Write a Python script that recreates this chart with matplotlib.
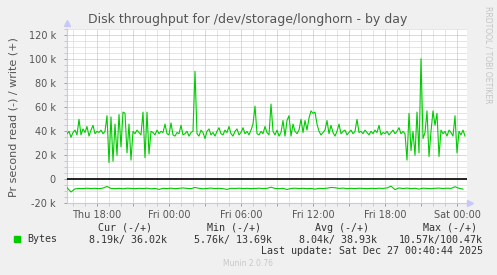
import numpy as np
import matplotlib
matplotlib.use("Agg")
import matplotlib.pyplot as plt
from matplotlib.ticker import MultipleLocator, FuncFormatter

# write (+) in kB/s, one sample every 10 minutes, starting Thu 15:30
write_k = [
    38, 40, 35, 39, 41, 37, 50, 37, 42, 39, 44, 36, 41, 45, 38, 40,
    39, 41, 38, 40, 53, 14, 52, 15, 46, 20, 54, 27, 56, 55, 22, 46,
    16, 40, 38, 41, 39, 37, 56, 18, 56, 21, 40, 39, 37, 41, 38, 40,
    39, 46, 38, 37, 47, 37, 36, 39, 38, 45, 37, 38, 40, 36, 39, 40,
    90, 38, 36, 41, 39, 34, 40, 42, 37, 39, 36, 40, 43, 38, 37, 41,
    39, 44, 38, 36, 40, 42, 37, 39, 43, 38, 40, 37, 41, 46, 61, 38,
    37, 40, 38, 44, 39, 37, 62.7, 40, 37, 41, 36, 39, 49, 36, 49, 53,
    36, 46, 40, 38, 41, 50, 39, 49, 41, 51, 57, 55, 56, 46, 40, 37,
    39, 41, 49, 38, 45, 39, 36, 40, 46, 38, 40, 41, 37, 39, 41, 38,
    40, 50, 39, 40, 38, 41, 39, 37, 40, 38, 41, 39, 45, 37, 39, 38,
    40, 37, 39, 41, 38, 40, 43, 38, 40, 38, 16, 55, 24, 40, 20, 56,
    22, 100.47, 34, 39, 57, 19, 40, 57, 45, 55, 19, 41, 38, 40, 36, 41,
    39, 36, 53, 22, 40, 37, 41, 36.02,
]

# read (-) in kB/s, one sample every 20 minutes
read_k = [
    7.0, 10.57, 8.0, 7.6, 7.8, 7.4, 7.7, 7.5, 7.8, 7.3, 6.0, 7.6, 7.8, 7.5,
    7.9, 7.4, 7.6, 7.8, 7.5, 7.7, 7.4, 7.9, 7.6, 8.4, 7.5, 7.7, 7.4, 7.8,
    7.5, 7.2, 7.6, 7.8, 6.8, 7.5, 7.9, 7.6, 7.3, 7.7, 7.5, 7.8, 8.4, 7.5,
    7.6, 7.4, 7.7, 7.5, 7.8, 7.6, 7.4, 7.7, 7.5, 6.6, 7.6, 7.8, 7.5, 8.5,
    7.6, 7.4, 7.7, 7.5, 7.8, 7.6, 8.2, 7.5, 7.7, 7.4, 6.8, 7.0, 7.6, 7.3,
    7.8, 7.5, 7.7, 7.4, 7.6, 7.8, 7.5, 7.7, 7.4, 7.6, 7.2, 5.76, 8.6, 7.2,
    7.7, 7.3, 7.8, 7.5, 8.2, 7.4, 7.6, 7.8, 7.5, 7.3, 7.7, 7.4, 7.6, 6.2,
    7.5, 8.19,
]

tick_hours = [18, 24, 30, 36, 42, 48]
tick_labels = ["Thu 18:00", "Fri 00:00", "Fri 06:00", "Fri 12:00", "Fri 18:00", "Sat 00:00"]

legend_cols = ["Cur (-/+)", "Min (-/+)", "Avg (-/+)", "Max (-/+)"]
legend_vals = ["8.19k/ 36.02k", "5.76k/ 13.69k", "8.04k/ 38.93k", "10.57k/100.47k"]

start_h = 15.5
t_write = start_h + np.arange(len(write_k)) / 6.0
t_read = start_h + np.arange(len(read_k)) / 3.0

green = "#00CC00"
bg = "#F0F0F0"
axcol = "#C8C8F8"

W, H = 497, 275
fig = plt.figure(figsize=(W / 100, H / 100), dpi=100, facecolor=bg)
ax = fig.add_axes([67 / W, (H - 203.3) / H, 400 / W, 174 / H])
ax.set_facecolor("white")

ax.set_xlim(start_h, start_h + 400 / 12)
ax.set_ylim(-20000, 125000)

# grid
ax.xaxis.set_major_locator(MultipleLocator(3))
ax.xaxis.set_minor_locator(MultipleLocator(1))
ax.yaxis.set_major_locator(MultipleLocator(20000))
ax.yaxis.set_minor_locator(MultipleLocator(5000))
ax.grid(which="minor", color="#CFCFCF", linestyle=(0, (1, 1)), lw=0.72)
ax.grid(which="major", color="#E8A0A0", linestyle=(0, (1, 1)), lw=0.72)
ax.set_axisbelow(True)

def xfmt(v, pos):
    for h, lab in zip(tick_hours, tick_labels):
        if abs(v - h) < 1e-6:
            return lab
    return ""

ax.xaxis.set_major_formatter(FuncFormatter(xfmt))
ax.yaxis.set_major_formatter(FuncFormatter(lambda v, p: "0" if v == 0 else f"{v/1000:.0f} k"))

ax.tick_params(which="major", colors="#E08080", length=2, width=0.7,
               labelcolor="#555555", labelsize=7, pad=3)
ax.tick_params(axis="y", which="major", pad=6)
ax.tick_params(which="minor", colors="#C8C8C8", length=2, width=0.7)

for s in ["top", "right"]:
    ax.spines[s].set_visible(False)
for s in ["left", "bottom"]:
    ax.spines[s].set_color(axcol)
    ax.spines[s].set_linewidth(0.8)

ax.plot(1.008, 0, marker=">", ms=4, color=axcol, transform=ax.transAxes, clip_on=False)
ax.plot(0, 1.035, marker="^", ms=4, color=axcol, transform=ax.transAxes, clip_on=False)

ax.axhline(0, color="black", lw=1.2, zorder=3)
ax.plot(t_write, np.array(write_k) * 1000, color=green, lw=0.8, zorder=4)
ax.plot(t_read, -np.array(read_k) * 1000, color=green, lw=0.8, zorder=4)

fig.text(248 / W, 1 - 19 / H, "Disk throughput for /dev/storage/longhorn - by day",
         ha="center", va="center", fontsize=9, color="#555555")
fig.text(14 / W, 1 - 117 / H, "Pr second read (-) / write (+)", rotation=90,
         ha="center", va="center", fontsize=8, color="#555555")
fig.text(488 / W, 1 - 55 / H, "RRDTOOL / TOBI OETIKER", rotation=270,
         ha="center", va="center", fontsize=5.5, color="#C4C4C4")

mono = "DejaVu Sans Mono"
head_x = [98, 207, 315, 423]
val_x = [89, 194, 299, 399]
for hx, vx, hd, vl in zip(head_x, val_x, legend_cols, legend_vals):
    fig.text(hx / W, 1 - 228 / H, hd, family=mono, fontsize=7.2,
             ha="left", va="center", color="#333333")
    fig.text(vx / W, 1 - 239.5 / H, vl, family=mono, fontsize=7.2,
             ha="left", va="center", color="#333333")

fig.patches.append(plt.Rectangle((14 / W, 1 - 242 / H), 6 / W, 6 / H,
                                 transform=fig.transFigure, color=green))
fig.text(27 / W, 1 - 239.5 / H, "Bytes", family=mono, fontsize=7.2,
         ha="left", va="center", color="#333333")
fig.text(483 / W, 1 - 251 / H, "Last update: Sat Dec 27 00:40:44 2025",
         family=mono, fontsize=7.2, ha="right", va="center", color="#333333")
fig.text(248 / W, 1 - 264 / H, "Munin 2.0.76", fontsize=5.5,
         ha="center", va="center", color="#C8C8C8")

fig.savefig("out.png", dpi=100, facecolor=bg)
